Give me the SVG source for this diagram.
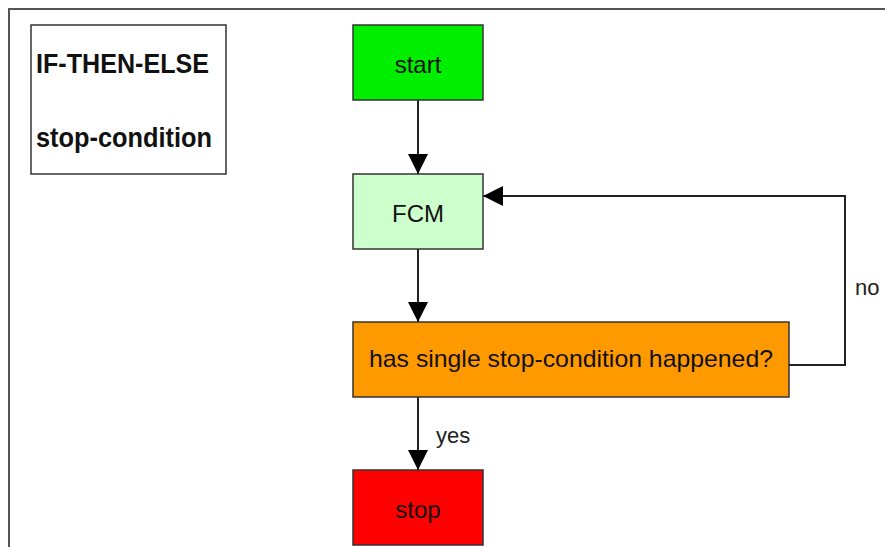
<svg xmlns="http://www.w3.org/2000/svg" width="885" height="547" viewBox="0 0 885 547">
<style>
.box{stroke:#333;stroke-width:1.5}
.t{font-family:"Liberation Sans",Arial,sans-serif;font-size:24px;fill:#111;text-anchor:middle}
.lbl{font-family:"Liberation Sans",Arial,sans-serif;font-size:22px;fill:#222}
.leg{font-family:"Liberation Sans",Arial,sans-serif;font-size:27px;font-weight:bold;fill:#111}
.c{fill:none;stroke:#222;stroke-width:2}
</style>
<defs>
<marker id="ah" markerWidth="20" markerHeight="20" refX="20" refY="10" orient="auto" markerUnits="userSpaceOnUse">
<path d="M0,0 L20,10 L0,20 Z" fill="#000"/>
</marker>
</defs>
<rect width="885" height="547" fill="#fff"/>
<path d="M9,547 V9 H885" fill="none" stroke="#555" stroke-width="2"/>
<g id="legend">
<rect x="31" y="25" width="195" height="149" fill="#fff" class="box"/>
<text x="36" y="73" class="leg" textLength="173" lengthAdjust="spacingAndGlyphs">IF-THEN-ELSE</text>
<text x="36" y="147" class="leg" textLength="176" lengthAdjust="spacingAndGlyphs">stop-condition</text>
</g>
<g id="connectors">
<line x1="418" y1="100" x2="418" y2="174" class="c" marker-end="url(#ah)"/>
<line x1="418" y1="249" x2="418" y2="322" class="c" marker-end="url(#ah)"/>
<line x1="418" y1="397" x2="418" y2="470" class="c" marker-end="url(#ah)"/>
<polyline points="789,365 845,365 845,196 483,196" class="c" marker-end="url(#ah)"/>
<text x="855" y="295" class="lbl">no</text>
<text x="436" y="443" class="lbl">yes</text>
</g>
<g id="start">
<rect x="353" y="25" width="130" height="75" fill="#00ee00" class="box"/>
<text x="418" y="73" class="t">start</text>
</g>
<g id="fcm">
<rect x="353" y="174" width="130" height="75" fill="#ccffcc" class="box"/>
<text x="418" y="222" class="t">FCM</text>
</g>
<g id="decision">
<rect x="353" y="322" width="436" height="75" fill="#ff9900" class="box"/>
<text x="571" y="367" class="t" textLength="404" lengthAdjust="spacingAndGlyphs">has single stop-condition happened?</text>
</g>
<g id="stop">
<rect x="353" y="470" width="130" height="75" fill="#ff0000" class="box"/>
<text x="418" y="518" class="t">stop</text>
</g>
</svg>
